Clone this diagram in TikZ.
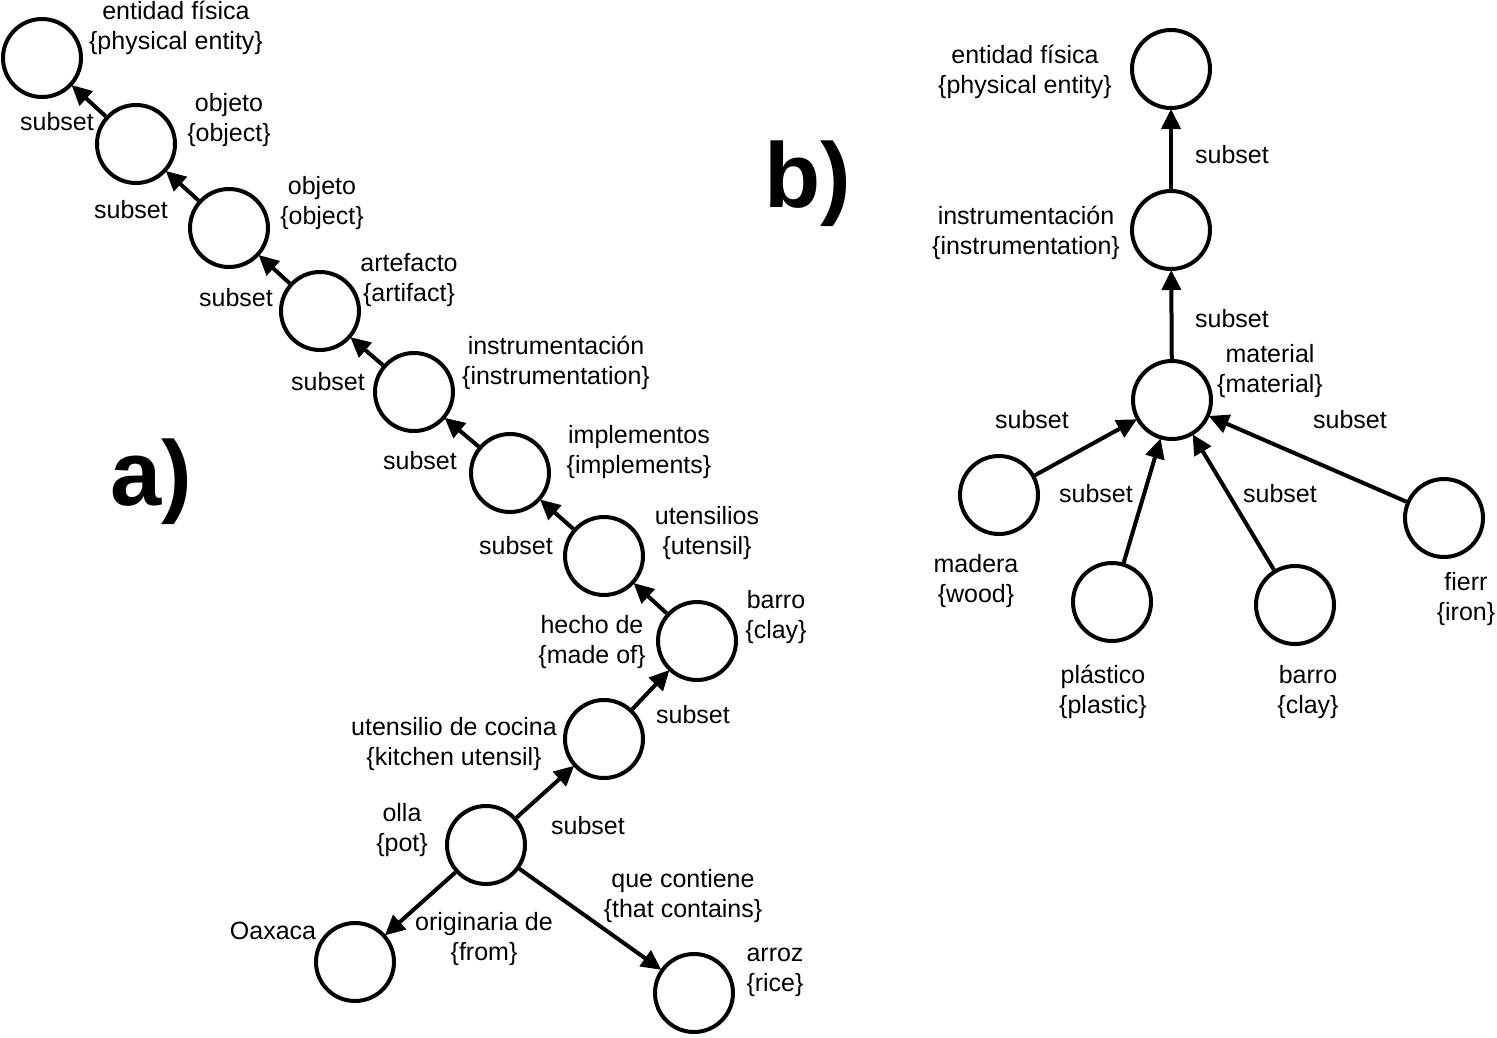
\documentclass[tikz,border=0pt]{standalone}
\usepackage{fontspec}
\setmainfont{Liberation Sans}
\usetikzlibrary{arrows.meta}
\begin{document}
\begin{tikzpicture}[x=1pt,y=-1pt,
  cnode/.style={circle,draw,line width=4pt,minimum size=78pt,inner sep=0pt},
  lbl/.style={align=center,inner sep=0pt,font=\fontsize{25}{30}\selectfont},
  arr/.style={line width=4pt,-{Triangle[length=20pt,width=19pt]},shorten >=-1pt},
  big/.style={inner sep=0pt,font=\fontsize{92}{100}\selectfont\bfseries}]
\useasboundingbox (0,0) rectangle (1497,1037);
% ---- a) ----
\node[cnode] (a1) at (42,58) {};
\node[cnode] (a2) at (136,144) {};
\node[cnode] (a3) at (229,228) {};
\node[cnode] (a4) at (320,311) {};
\node[cnode] (a5) at (414,392) {};
\node[cnode] (a6) at (510,473) {};
\node[cnode] (a7) at (604,556) {};
\node[cnode] (a8) at (697,641) {};
\node[cnode] (a9) at (604,739) {};
\node[cnode] (a10) at (486,845) {};
\node[cnode] (a11) at (355,962) {};
\node[cnode] (a12) at (694,993) {};

\node[lbl] (la1) at (176,28) {entidad física\\\{physical entity\}};
\node[lbl] (la2) at (229,120) {objeto\\\{object\}};
\node[lbl] (la3) at (322,203) {objeto\\\{object\}};
\node[lbl] (la4) at (409,280) {artefacto\\\{artifact\}};
\node[lbl] (la5) at (556,363) {instrumentación\\\{instrumentation\}};
\node[lbl] (la6) at (639,452) {implementos\\\{implements\}};
\node[lbl] (la7) at (707,533) {utensilios\\\{utensil\}};
\node[lbl] (la8) at (776,617) {barro\\\{clay\}};
\node[lbl] (lhd) at (592,642) {hecho de\\\{made of\}};
\node[lbl] (la9) at (454,744) {utensilio de cocina\\\{kitchen utensil\}};
\node[lbl] (la10) at (402,830) {olla\\\{pot\}};
\node[lbl] (la11) at (273,931) {Oaxaca};
\node[lbl] (lor) at (484,939) {originaria de\\\{from\}};
\node[lbl] (lqc) at (683,896) {que contiene\\\{that contains\}};
\node[lbl] (la12) at (775,972) {arroz\\\{rice\}};

\node[lbl] (s1) at (57,122) {subset};
\node[lbl] (s2) at (131,210) {subset};
\node[lbl] (s3) at (236,298) {subset};
\node[lbl] (s4) at (328,382) {subset};
\node[lbl] (s5) at (420,461) {subset};
\node[lbl] (s6) at (516,546) {subset};
\node[lbl] (s7) at (693,715) {subset};
\node[lbl] (s8) at (588,826) {subset};

\draw[arr] (a2) -- (a1);
\draw[arr] (a3) -- (a2);
\draw[arr] (a4) -- (a3);
\draw[arr] (a5) -- (a4);
\draw[arr] (a6) -- (a5);
\draw[arr] (a7) -- (a6);
\draw[arr] (a8) -- (a7);
\draw[arr] (a9) -- (a8);
\draw[arr] (a10) -- (a9);
\draw[arr] (a10) -- (a11);
\draw[arr] (a10) -- (a12);

\node[big] (ta) at (151,482) {a)};
\node[big] (tb) at (808,184) {b)};

% ---- b) ----
\node[cnode] (b1) at (1171,69) {};
\node[cnode] (b2) at (1171,230) {};
\node[cnode] (b3) at (1172,400) {};
\node[cnode] (b4) at (999,495) {};
\node[cnode] (b5) at (1112,602) {};
\node[cnode] (b6) at (1295,605) {};
\node[cnode] (b7) at (1444,518) {};

\node[lbl] (lb1) at (1025,72) {entidad física\\\{physical entity\}};
\node[lbl] (lb2) at (1026,233) {instrumentación\\\{instrumentation\}};
\node[lbl] (lb3) at (1270,371) {material\\\{material\}};
\node[lbl] (lb4) at (976,581) {madera\\\{wood\}};
\node[lbl] (lb5) at (1103,692) {plástico\\\{plastic\}};
\node[lbl] (lb6) at (1308,692) {barro\\\{clay\}};
\node[lbl] (lb7) at (1466,599) {fierr\\\{iron\}};

\node[lbl] (t1) at (1232,155) {subset};
\node[lbl] (t2) at (1232,319) {subset};
\node[lbl] (t3) at (1032,420) {subset};
\node[lbl] (t4) at (1096,494) {subset};
\node[lbl] (t5) at (1280,494) {subset};
\node[lbl] (t6) at (1350,420) {subset};

\draw[arr] (b2) -- (b1);
\draw[arr] (b3) -- (b2);
\draw[arr] (b4) -- (b3);
\draw[arr] (b5) -- (b3);
\draw[arr] (b6) -- (b3);
\draw[arr] (b7) -- (b3);
\end{tikzpicture}
\end{document}
